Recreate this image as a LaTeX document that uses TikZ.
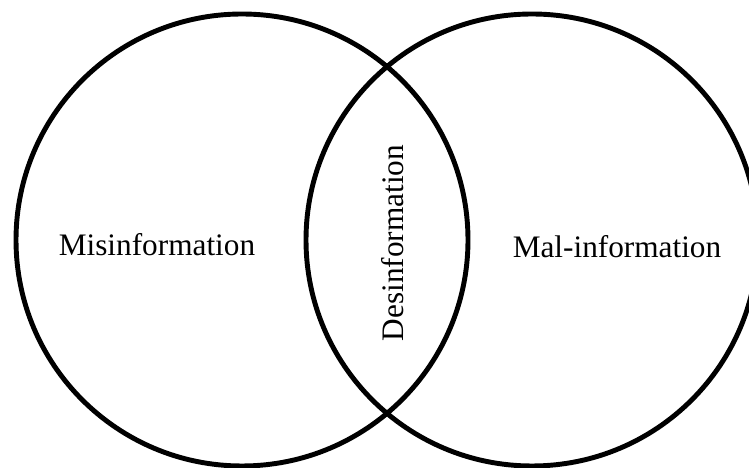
\documentclass[tikz,border=0pt]{standalone}
\usepackage{fontspec}
\setmainfont{Liberation Serif}
\usetikzlibrary{positioning, calc}

\begin{document}
\begin{tikzpicture}[
    set/.style={draw, circle, line width=2.8pt, minimum size=9.04cm, inner sep=0pt},
    lbl/.style={font=\fontsize{17.8}{20}\selectfont, inner sep=0pt}
]
  \useasboundingbox (0,0) rectangle (14.98,9.36);
  \node[set] (misset) at (4.84,4.56) {};
  \node[set] (malset) at (10.64,4.56) {};

  \node[lbl] (mis) at (3.14,4.46) {Misinformation};
  \node[lbl] (mal) at (12.34,4.42) {Mal-information};
  \node[lbl, rotate=90] (des) at ($(misset)!0.5!(malset)+(0.12,-0.06)$) {Desinformation};
\end{tikzpicture}
\end{document}
